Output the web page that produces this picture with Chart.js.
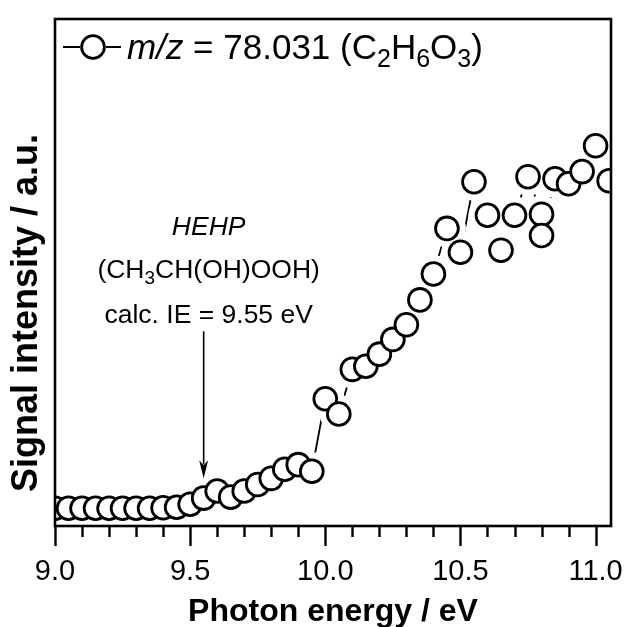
<!DOCTYPE html>
<html>
<head>
<meta charset="utf-8">
<title>m/z 78.031</title>
<script src="https://cdn.jsdelivr.net/npm/chart.js@4.4.1/dist/chart.umd.min.js"></script>
<style>
    html, body { margin: 0; padding: 0; background: #fff; }
    canvas { display: block; }
</style>
</head>
<body>
<canvas id="grafico" width="630" height="627"></canvas>
<script>
// photon energy (eV) and signal (a.u.)
const energia = [
    9.00, 9.05, 9.10, 9.15, 9.20, 9.25, 9.30, 9.35, 9.40, 9.45,
    9.50, 9.55, 9.60, 9.65, 9.70, 9.75, 9.80, 9.85, 9.90, 9.95,
    10.00, 10.05, 10.10, 10.15, 10.20, 10.25, 10.30, 10.35, 10.40, 10.45,
    10.50, 10.55, 10.60, 10.65, 10.70, 10.75, 10.80, 10.80, 10.85, 10.90,
    10.95, 11.00, 11.05
];
const sinal = [
    3.5, 3.5, 3.5, 3.5, 3.5, 3.5, 3.5, 3.5, 3.6, 3.7,
    4.3, 5.5, 6.9, 5.7, 6.9, 8.2, 9.4, 11.2, 12.1, 10.8,
    25.1, 22.1, 30.9, 31.5, 33.9, 36.8, 39.7, 44.6, 49.7, 58.7,
    54.0, 67.9, 61.3, 54.4, 61.3, 68.9, 61.5, 57.3, 68.5, 67.5,
    69.9, 75.0, 68.1
];

const xMajor = [9.0, 9.5, 10.0, 10.5, 11.0];
const xTickLabels = ['9.0', '9.5', '10.0', '10.5', '11.0'];
const xMinorStep = 0.1;

const legendaPartes = [
    { t: 'm/z', italic: true }, { t: ' = 78.031 (C' }, { t: '2', sub: true },
    { t: 'H' }, { t: '6', sub: true }, { t: 'O' }, { t: '3', sub: true }, { t: ')' }
];
const nomeEspecie = 'HEHP';
const formulaPartes = [{ t: '(CH' }, { t: '3', sub: true }, { t: 'CH(OH)OOH)' }];
const textoIE = 'calc. IE = 9.55 eV';
const setaX = 9.55;          // eV
const setaDe = 38.4;         // a.u.
const setaAte = 9.4;         // a.u.
const tituloX = 'Photon energy / eV';
const tituloY = 'Signal intensity / a.u.';

const FONTE = "'Liberation Sans', Arial, sans-serif";

const pontos = energia.map((e, i) => ({ x: e, y: sinal[i] }));

function fonte(p, tam) {
    const t = p.sub ? Math.round(tam * 0.7) : tam;
    return (p.italic ? 'italic ' : '') + t + 'px ' + FONTE;
}

function textoComIndices(ctx, partes, x, y, tam, alinhar) {
    let total = 0;
    partes.forEach(p => { ctx.font = fonte(p, tam); total += ctx.measureText(p.t).width; });
    let cx = alinhar === 'center' ? x - total / 2 : x;
    ctx.textAlign = 'left';
    ctx.textBaseline = 'alphabetic';
    partes.forEach(p => {
        ctx.font = fonte(p, tam);
        ctx.fillText(p.t, cx, y + (p.sub ? tam * 0.22 : 0));
        cx += ctx.measureText(p.t).width;
    });
}

const molduraETextos = {
    id: 'molduraETextos',
    afterDraw(chart) {
        const ctx = chart.ctx;
        const area = chart.chartArea;
        const xs = chart.scales.x;
        const ys = chart.scales.y;
        ctx.save();
        ctx.strokeStyle = '#000';
        ctx.fillStyle = '#000';

        // frame
        ctx.lineWidth = 2.6;
        ctx.strokeRect(area.left, area.top, area.right - area.left, area.bottom - area.top);

        // ticks on x, outward
        ctx.lineWidth = 2.4;
        for (let v = xMajor[0]; v <= xMajor[xMajor.length - 1] + 1e-6; v += xMinorStep) {
            const px = Math.round(xs.getPixelForValue(v)) + 0.5;
            const major = xMajor.some(m => Math.abs(m - v) < 1e-6);
            ctx.beginPath();
            ctx.moveTo(px, area.bottom);
            ctx.lineTo(px, area.bottom + (major ? 20 : 11));
            ctx.stroke();
        }

        // axis titles
        ctx.font = 'bold 32px ' + FONTE;
        ctx.textAlign = 'center';
        ctx.textBaseline = 'alphabetic';
        ctx.fillText(tituloX, (area.left + area.right) / 2, 621);

        ctx.save();
        ctx.translate(37, 492);
        ctx.rotate(-Math.PI / 2);
        ctx.font = 'bold 36px ' + FONTE;
        ctx.textAlign = 'left';
        ctx.fillText(tituloY, 0, 0);
        ctx.restore();

        // legend
        const ly = 47;
        ctx.lineWidth = 2;
        ctx.beginPath();
        ctx.moveTo(area.left + 8, ly); ctx.lineTo(area.left + 25, ly);
        ctx.moveTo(area.left + 51, ly); ctx.lineTo(area.left + 66, ly);
        ctx.stroke();
        ctx.lineWidth = 2.8;
        ctx.beginPath();
        ctx.arc(area.left + 38, ly, 11.4, 0, Math.PI * 2);
        ctx.stroke();
        textoComIndices(ctx, legendaPartes, area.left + 72, ly + 12, 35, 'left');

        // annotation
        const ax = xs.getPixelForValue(setaX);
        const cx = ax + 5;
        ctx.font = 'italic 26.5px ' + FONTE;
        ctx.textAlign = 'center';
        ctx.fillText(nomeEspecie, cx, 235);
        textoComIndices(ctx, formulaPartes, cx, 278, 26.5, 'center');
        ctx.font = '26.5px ' + FONTE;
        ctx.textAlign = 'center';
        ctx.fillText(textoIE, cx, 323);

        const y0 = ys.getPixelForValue(setaDe);
        const y1 = ys.getPixelForValue(setaAte);
        ctx.lineWidth = 1.6;
        ctx.beginPath();
        ctx.moveTo(ax, y0);
        ctx.lineTo(ax, y1 - 14);
        ctx.stroke();
        ctx.beginPath();
        ctx.moveTo(ax, y1);
        ctx.lineTo(ax - 4.5, y1 - 18);
        ctx.lineTo(ax, y1 - 13);
        ctx.lineTo(ax + 4.5, y1 - 18);
        ctx.closePath();
        ctx.fill();

        ctx.restore();
    }
};

const ctx = document.getElementById('grafico').getContext('2d');
new Chart(ctx, {
    type: 'line',
    data: {
        datasets: [
            {
                // open circles
                data: pontos,
                showLine: false,
                pointRadius: 11.4,
                pointHoverRadius: 11.4,
                pointBorderWidth: 2.8,
                pointBorderColor: '#000',
                pointBackgroundColor: '#fff',
                clip: 0,
                order: 0
            },
            {
                // white gap around each symbol
                data: pontos,
                showLine: false,
                pointRadius: 19,
                pointHoverRadius: 19,
                pointBorderWidth: 0,
                pointBorderColor: '#fff',
                pointBackgroundColor: '#fff',
                clip: 0,
                order: 1
            },
            {
                // connecting line
                data: pontos,
                borderColor: '#000',
                borderWidth: 1.8,
                pointRadius: 0,
                tension: 0,
                clip: 0,
                order: 2
            }
        ]
    },
    options: {
        responsive: false,
        animation: false,
        devicePixelRatio: 1,
        events: [],
        layout: { padding: { top: 15, left: 55, right: 18.3, bottom: 0 } },
        plugins: {
            legend: { display: false },
            tooltip: { enabled: false }
        },
        scales: {
            x: {
                type: 'linear',
                position: 'bottom',
                min: 9.0,
                max: 11.057,
                grid: { display: false, drawTicks: false },
                border: { display: false },
                afterBuildTicks: s => { s.ticks = xMajor.map(v => ({ value: v })); },
                afterFit: s => {
                    s.height = 101;
                    s.paddingLeft = 0;
                    s.paddingRight = 0;
                },
                ticks: {
                    autoSkip: false,
                    maxRotation: 0,
                    padding: 31,
                    color: '#000',
                    font: { family: FONTE, size: 29, lineHeight: 1 },
                    callback: (v, i) => xTickLabels[i]
                }
            },
            y: {
                display: false,
                min: 0,
                max: 100
            }
        }
    },
    plugins: [molduraETextos]
});
</script>
</body>
</html>
